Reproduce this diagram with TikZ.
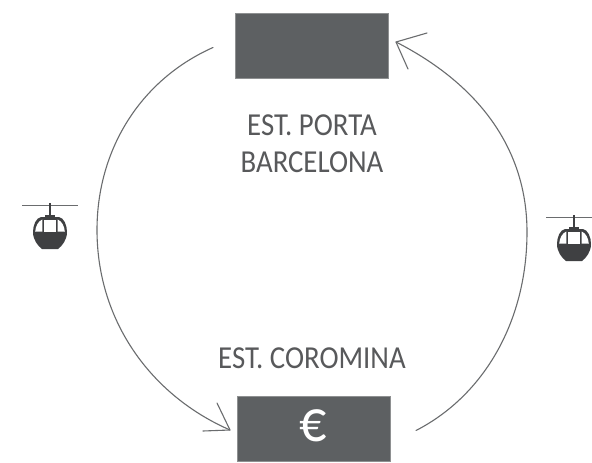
\documentclass[tikz,border=0pt]{standalone}
\usepackage{fontspec}
\setmainfont{Carlito}
\newfontfamily\narrowfont[FakeStretch=0.9]{Carlito}
\definecolor{boxgray}{HTML}{5D6062}
\definecolor{txtgray}{HTML}{58595B}
\definecolor{linegray}{HTML}{6A6C6E}
\definecolor{gondola}{HTML}{3F4042}
\begin{document}
\begin{tikzpicture}[x=1pt,y=-1pt,
  stationbox/.style={draw=boxgray!70!white,line width=0.6pt,fill=boxgray,minimum width=153pt,minimum height=65pt,inner sep=0pt,outer sep=0pt,text=white},
  stationlabel/.style={text=txtgray,font=\narrowfont\fontsize{32}{37}\selectfont,align=center,inner sep=0pt},
  connector/.style={draw=linegray,line width=1.1pt,line join=round,line cap=round},
  gondolapic/.pic={
    \draw[linegray,line width=0.9pt] (-28,0) -- (28,0);
    \draw[gondola,line width=1.2pt] (0,-2) -- (0,11);
    \fill[gondola] (-5,10) rectangle (5,13);
    \fill[gondola] (-9,12) .. controls (-14,13) and (-17,20) .. (-17,27)
      .. controls (-17,35) and (-12,41) .. (-8,44) -- (8,44)
      .. controls (12,41) and (17,35) .. (17,27)
      .. controls (17,20) and (14,13) .. (9,12) -- cycle;
    \fill[white] (-6,14.5) rectangle (6,26.5);
    \fill[white] (-7.7,14.5) -- (-7.7,26.5) -- (-14.8,26.5) .. controls (-14.3,21) and (-12,16.5) .. (-7.7,14.5) -- cycle;
    \fill[white] (7.7,14.5) -- (7.7,26.5) -- (14.8,26.5) .. controls (14.3,21) and (12,16.5) .. (7.7,14.5) -- cycle;
  }]
\useasboundingbox (0,0) rectangle (592,463);
\fill[white] (0,0) rectangle (592,463);

\node[stationbox] (top) at (311.5,45.5) {};
\node[stationbox,font=\narrowfont\fontsize{60}{60}\selectfont] (bottom) at (313.5,428.5) {\raisebox{6pt}{€}};
\node[stationlabel] (toplabel) at (312,143.5) {EST. PORTA\\BARCELONA};
\node[stationlabel] (bottomlabel) at (312,358) {EST. COROMINA};

\coordinate (lstart) at (213,47.5);
\coordinate (lmid) at (97,230);
\coordinate (ltip) at (230,430);
\coordinate (lb1) at (217,403);
\coordinate (lb2) at (203,431);
\coordinate (rstart) at (416,430.5);
\coordinate (rmid) at (527,232);
\coordinate (rtip) at (396,42);
\coordinate (rb1) at (427,33);
\coordinate (rb2) at (408,69);

\draw[connector] (lstart) .. controls (140,80) and (97,150) .. (lmid)
  .. controls (97,320) and (150,395) .. (ltip);
\draw[connector] (lb1) -- (ltip) -- (lb2);
\draw[connector] (rstart) .. controls (485,395) and (527,320) .. (rmid)
  .. controls (527,150) and (480,85) .. (rtip);
\draw[connector] (rb1) -- (rtip) -- (rb2);

\pic at (50,205) {gondolapic};
\begin{scope}
\clip (530,190) rectangle (592,290);
\pic at (574,217) {gondolapic};
\end{scope}
\end{tikzpicture}
\end{document}
